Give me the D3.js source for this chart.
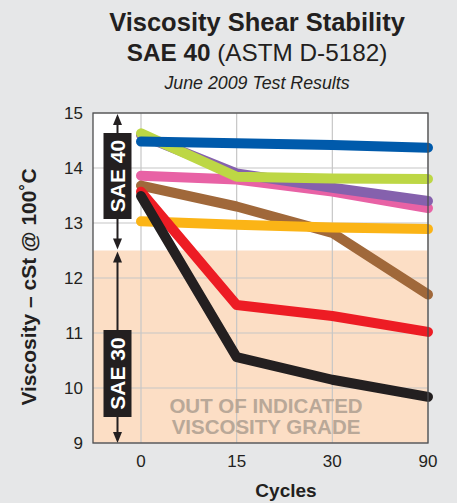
<!DOCTYPE html>
<html><head><meta charset="utf-8">
<script src="https://cdn.jsdelivr.net/npm/d3@7"></script>
<style>
html,body{margin:0;padding:0;background:#e6e7e8;}
svg{display:block;font-family:"Liberation Sans",Arial,Helvetica,sans-serif;}
</style></head><body>
<svg id="chart" width="457" height="503"></svg>
<script>
// ---- data ----
const cycles = ["0", "15", "30", "90"];
const yTicks = [9, 10, 11, 12, 13, 14, 15];
const sae30Limit = 12.5;
const pink   = [13.86, 13.79, 13.57, 13.27];
const purple = [14.60, 13.90, 13.64, 13.40];
const green  = [14.63, 13.84, 13.81, 13.80];
const brown  = [13.68, 13.30, 12.82, 11.70];
const yellow = [13.03, 12.97, 12.92, 12.89];
const red    = [13.57, 11.51, 11.31, 11.02];
const black  = [13.49, 10.56, 10.15, 9.84];
const blue   = [14.48, 14.45, 14.42, 14.37];
const seriesNames = ["pink", "purple", "green", "brown", "yellow", "red", "black", "blue"];
const seriesValues = [pink, purple, green, brown, yellow, red, black, blue];
const seriesColors = ["#e862a5", "#8561ad", "#bdd745", "#a0683a", "#fbb416", "#ed1c24", "#231f20", "#005aab"];

// ---- layout ----
const svg = d3.select("#chart");
const L = 93, R = 428, T = 113, B = 443;
const x = d3.scalePoint().domain(cycles).range([L + 48, R]);
const y = d3.scaleLinear().domain([9, 15]).range([B, T]);

// titles
svg.append("text").attr("x", 257).attr("y", 31).attr("text-anchor", "middle")
  .attr("font-size", 25.5).attr("font-weight", "bold").attr("fill", "#231f20")
  .text("Viscosity Shear Stability");
const t2 = svg.append("text").attr("x", 257).attr("y", 61).attr("text-anchor", "middle")
  .attr("font-size", 24.3).attr("fill", "#231f20");
t2.append("tspan").attr("font-weight", "bold").text("SAE 40");
t2.append("tspan").text(" (ASTM D-5182)");
svg.append("text").attr("x", 257).attr("y", 89).attr("text-anchor", "middle")
  .attr("font-size", 17.8).attr("font-style", "italic").attr("fill", "#231f20")
  .text("June 2009 Test Results");

// plot background
svg.append("rect").attr("x", L).attr("y", T).attr("width", R - L).attr("height", B - T).attr("fill", "#ffffff");
svg.append("rect").attr("x", L).attr("y", y(sae30Limit)).attr("width", R - L)
  .attr("height", B - y(sae30Limit)).attr("fill", "#fcdec5");

// grid
svg.append("g").selectAll("line").data(yTicks).join("line")
  .attr("x1", L).attr("x2", R).attr("y1", d => y(d)).attr("y2", d => y(d))
  .attr("stroke", "#c6c6c6").attr("stroke-width", 1.2);
svg.append("g").selectAll("line").data(cycles).join("line")
  .attr("x1", d => x(d)).attr("x2", d => x(d)).attr("y1", T).attr("y2", B)
  .attr("stroke", "#c6c6c6").attr("stroke-width", 1.2);

// out of grade text
svg.append("text").attr("text-anchor", "middle").attr("font-size", 20.5)
  .attr("font-weight", "bold").attr("fill", "#b9a898")
  .attr("x", 266).attr("y", 413).text("OUT OF INDICATED");
svg.append("text").attr("text-anchor", "middle").attr("font-size", 20.5)
  .attr("font-weight", "bold").attr("fill", "#b9a898")
  .attr("x", 266).attr("y", 433.5).text("VISCOSITY GRADE");

// SAE arrows
function doubleArrow(cx, y1, y2) {
  const g = svg.append("g");
  g.append("line").attr("x1", cx).attr("x2", cx).attr("y1", y1 + 6).attr("y2", y2 - 6)
    .attr("stroke", "#231f20").attr("stroke-width", 2);
  g.append("path").attr("d", `M${cx},${y1} L${cx - 4.5},${y1 + 11} L${cx + 4.5},${y1 + 11} Z`).attr("fill", "#231f20");
  g.append("path").attr("d", `M${cx},${y2} L${cx - 4.5},${y2 - 11} L${cx + 4.5},${y2 - 11} Z`).attr("fill", "#231f20");
}
function saeBox(cx, cy, h, label) {
  svg.append("rect").attr("x", cx - 14).attr("y", cy - h / 2).attr("width", 28).attr("height", h).attr("fill", "#231f20");
  svg.append("text").attr("transform", `translate(${cx + 7.5},${cy}) rotate(-90)`)
    .attr("text-anchor", "middle").attr("font-size", 21).attr("font-weight", "bold")
    .attr("fill", "#ffffff").text(label);
}
const ax = 117.5;
doubleArrow(ax, y(15) + 1, y(sae30Limit) - 1);
doubleArrow(ax, y(sae30Limit) + 1, y(9));
saeBox(ax, 176, 86, "SAE 40");
saeBox(ax, 373.5, 87, "SAE 30");

// series lines
const line = d3.line().x((d, i) => x(cycles[i])).y(d => y(d));
svg.append("g").selectAll("path").data(seriesValues).join("path")
  .attr("d", d => line(d)).attr("fill", "none")
  .attr("stroke", (d, i) => seriesColors[i]).attr("stroke-width", 10)
  .attr("stroke-linecap", "round").attr("stroke-linejoin", "round")
  .attr("class", (d, i) => seriesNames[i]);

// plot border
svg.append("rect").attr("x", L).attr("y", T).attr("width", R - L).attr("height", B - T)
  .attr("fill", "none").attr("stroke", "#4d4d4f").attr("stroke-width", 1.3);

// axes labels
svg.append("g").selectAll("text").data(yTicks).join("text")
  .attr("x", 83).attr("y", d => y(d) + 6).attr("text-anchor", "end")
  .attr("font-size", 17).attr("fill", "#231f20").text(d => d);
svg.append("g").selectAll("text").data(cycles).join("text")
  .attr("x", d => x(d)).attr("y", 467).attr("text-anchor", "middle")
  .attr("font-size", 17).attr("fill", "#231f20").text(d => d);
svg.append("text").attr("x", 286).attr("y", 497).attr("text-anchor", "middle")
  .attr("font-size", 19).attr("font-weight", "bold").attr("fill", "#231f20").text("Cycles");
svg.append("text").attr("transform", "translate(35.5,287) rotate(-90)").attr("text-anchor", "middle")
  .attr("font-size", 21).attr("font-weight", "bold").attr("fill", "#231f20")
  .text("Viscosity – cSt @ 100˚C");
</script>
</body></html>
